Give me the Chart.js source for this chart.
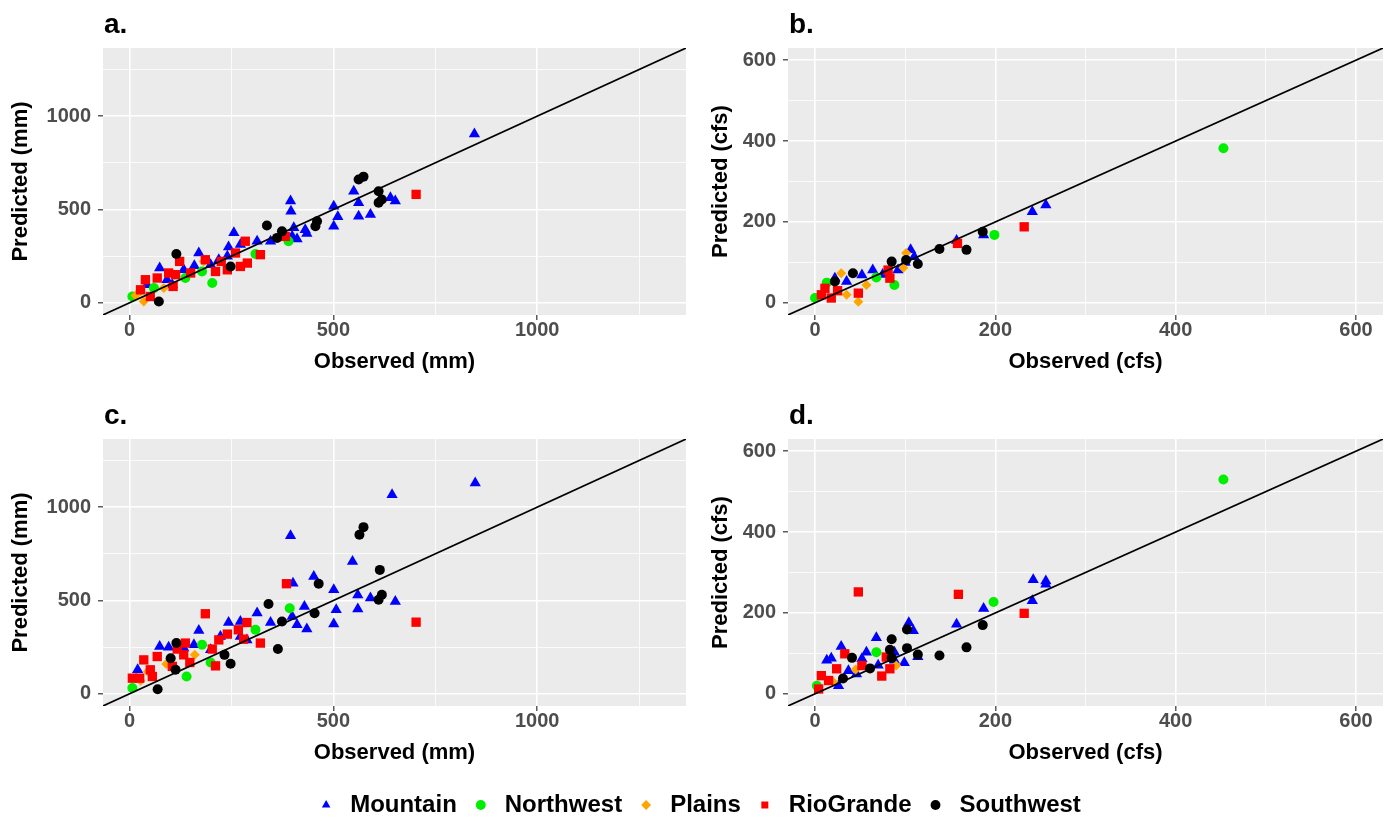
<!DOCTYPE html>
<html><head><meta charset="utf-8">
<script src="https://cdn.jsdelivr.net/npm/chart.js@4.4.1/dist/chart.umd.min.js"></script>
<style>
html,body{margin:0;padding:0;background:#fff;width:1395px;height:823px;overflow:hidden}
canvas{position:absolute;display:block}
</style></head><body>
<canvas id="ca" width="697" height="390" style="left:0px;top:0px"></canvas>
<canvas id="cb" width="698" height="390" style="left:697px;top:0px"></canvas>
<canvas id="cc" width="697" height="390" style="left:0px;top:391px"></canvas>
<canvas id="cd" width="698" height="390" style="left:697px;top:391px"></canvas>
<canvas id="cl" width="1395" height="100" style="left:0px;top:781px"></canvas>
<script>
// ---- categories / ticks ----
const regions = ['Mountain', 'Northwest', 'Plains', 'RioGrande', 'Southwest'];
const regionColors = ['#0000FF', '#00EE00', '#FFA500', '#FF0000', '#000000'];
const regionShapes = ['triangle', 'circle', 'rectRot', 'rect', 'circle'];
const panelLabels = ['a.', 'b.', 'c.', 'd.'];
const mmTicks = [0, 500, 1000];
const mmMinor = [250, 750, 1250];
const cfsTicks = [0, 200, 400, 600];
const cfsMinor = [100, 300, 500];
const mmLimits = [-65, 1365];
const cfsLimits = [-30, 630];

// ---- panel a: observed vs predicted (mm) ----
const aMountain = [[395,545],[396,491],[256,375],[243,299],[170,267],[74,187],[133,177],[159,199],[92,124],[105,97],[43,97],[313,330],[346,330],[272,312],[403,402],[399,357],[411,342],[431,392],[435,371],[501,518],[511,461],[501,410],[550,598],[562,536],[562,464],[591,473],[640,563],[652,545],[219,231],[240,249],[199,204],[846,905]];
const aNorthwest = [[309,262],[203,106],[178,168],[60,79],[7,34],[137,133],[390,330]];
const aPlains = [[182,222],[27,61],[35,7],[84,79],[15,40],[110,150]];
const aRioGrande = [[284,330],[321,258],[289,213],[272,195],[240,177],[211,168],[225,222],[186,231],[260,267],[123,222],[96,160],[113,151],[68,133],[39,124],[107,88],[27,70],[51,34],[382,356],[150,160],[703,581]];
const aSouthwest = [[115,262],[337,414],[374,383],[362,348],[460,437],[456,410],[562,661],[574,676],[611,598],[611,536],[619,554],[248,195],[72,7]];

// ---- panel b: observed vs predicted (cfs) ----
const bMountain = [[187,168],[157,154],[106,131],[110,114],[64,81],[52,69],[35,53],[22,61],[92,81],[241,225],[256,242],[100,100],[75,70]];
const bNorthwest = [[199,168],[88,44],[68,63],[13,50],[0,12],[453,382]];
const bPlains = [[101,123],[98,87],[29,73],[57,44],[35,20],[48,3]];
const bRioGrande = [[158,147],[81,81],[83,61],[48,24],[11,36],[7,20],[18,12],[232,188],[25,30]];
const bSouthwest = [[186,176],[168,131],[138,133],[114,96],[101,106],[85,102],[42,73],[22,53]];

// ---- panel c: observed vs predicted (mm) ----
const cMountain = [[644,1066],[395,847],[547,709],[452,629],[401,593],[501,557],[560,530],[591,513],[652,495],[507,450],[560,454],[429,468],[313,433],[346,382],[399,414],[411,370],[435,347],[501,374],[243,382],[272,388],[170,339],[272,307],[223,307],[158,263],[133,245],[96,250],[74,254],[288,289],[199,236],[20,129],[848,1129]];
const cNorthwest = [[393,459],[309,343],[178,263],[199,168],[140,93],[7,31]];
const cPlains = [[27,70],[45,120],[160,210],[90,160]];
const cRioGrande = [[385,590],[186,429],[288,382],[267,343],[240,320],[219,289],[203,240],[280,293],[321,272],[137,272],[117,240],[68,200],[35,182],[51,129],[105,147],[148,168],[211,150],[56,93],[7,84],[25,84],[133,209],[703,384]];
const cSouthwest = [[574,893],[564,852],[614,664],[619,531],[611,504],[464,590],[454,432],[341,481],[374,388],[364,240],[233,209],[248,161],[115,272],[101,191],[113,129],[69,25]];

// ---- panel d: observed vs predicted (cfs) ----
const dMountain = [[187,211],[157,172],[104,176],[109,156],[68,139],[29,117],[18,88],[13,83],[57,103],[88,103],[99,77],[114,92],[52,87],[70,71],[46,49],[37,57],[26,20],[88,83],[242,282],[256,279],[256,271],[241,230]];
const dNorthwest = [[198,227],[68,103],[2,20],[453,530]];
const dPlains = [[20,30],[45,60],[90,70]];
const dRioGrande = [[48,252],[159,246],[74,44],[83,62],[79,91],[33,99],[24,62],[7,45],[15,33],[4,12],[52,70],[232,199]];
const dSouthwest = [[186,170],[168,115],[138,95],[114,97],[102,113],[102,159],[85,135],[83,109],[85,89],[61,63],[41,89],[31,38]];

const FONT = "'Liberation Sans', Arial, Helvetica, sans-serif";
Chart.defaults.font.family = FONT;

const pointRadius = { triangle: 6.5, circle: 5, rectRot: 5, rect: 6.6 };

function seriesDatasets(list) {
  return list.map((pts, i) => ({
    label: regions[i],
    data: pts.map(p => ({ x: p[0], y: p[1] })),
    pointStyle: regionShapes[i],
    pointRadius: pointRadius[regionShapes[i]],
    pointHoverRadius: pointRadius[regionShapes[i]],
    backgroundColor: regionColors[i],
    borderColor: regionColors[i],
    borderWidth: 0,
    order: 5 - i
  }));
}

const panelBg = {
  id: 'panelBg',
  beforeDraw(chart) {
    const { ctx, chartArea: a } = chart;
    ctx.save();
    ctx.fillStyle = '#EBEBEB';
    ctx.fillRect(a.left, a.top, a.right - a.left, a.bottom - a.top);
    ctx.restore();
  }
};
const panelTag = {
  id: 'panelTag',
  afterDraw(chart, args, opts) {
    const { ctx, chartArea: a } = chart;
    ctx.save();
    ctx.fillStyle = '#000';
    ctx.font = 'bold 28px ' + FONT;
    ctx.textBaseline = 'alphabetic';
    ctx.textAlign = 'left';
    ctx.fillText(opts.text, a.left + 1, 33);
    ctx.restore();
  }
};

function axis(limits, majors, minors, title, isX, yWidth, titlePad) {
  const all = majors.concat(minors).sort((p, q) => p - q);
  const isMajor = c => c.tick && majors.includes(c.tick.value);
  const sc = {
    type: 'linear',
    min: limits[0],
    max: limits[1],
    afterBuildTicks: s => { s.ticks = all.map(v => ({ value: v })); },
    ticks: {
      autoSkip: false,
      maxRotation: 0,
      color: '#4D4D4D',
      padding: isX ? 0 : 7,
      font: { size: 20, weight: 'bold', lineHeight: 1 },
      callback: v => majors.includes(v) ? String(v) : ''
    },
    grid: {
      color: '#FFFFFF',
      lineWidth: c => isMajor(c) ? 1.6 : 0.8,
      tickColor: c => isMajor(c) ? '#333333' : 'rgba(0,0,0,0)',
      tickLength: 5,
      tickWidth: 1.2
    },
    border: { display: false },
    title: {
      display: true,
      text: title,
      color: '#000',
      font: { size: 22, weight: 'bold' },
      padding: isX ? { top: 0, bottom: 15 } : { top: titlePad, bottom: 0 }
    }
  };
  if (isX) sc.afterFit = s => { s.height = 75; };
  else sc.afterFit = s => { s.width = yWidth; };
  return sc;
}

function panel(id, tag, unit, limits, majors, minors, series, yWidth, padRight, titlePad) {
  const datasets = seriesDatasets(series);
  datasets.unshift({
    label: '1:1',
    data: [{ x: limits[0], y: limits[0] }, { x: limits[1], y: limits[1] }],
    showLine: true,
    borderColor: '#000',
    borderWidth: 1.6,
    pointRadius: 0,
    order: 0
  });
  new Chart(document.getElementById(id), {
    type: 'scatter',
    data: { datasets },
    options: {
      responsive: false,
      animation: false,
      events: [],
      layout: { padding: { top: 48, right: padRight, left: 0, bottom: 0 } },
      scales: {
        x: axis(limits, majors, minors, 'Observed (' + unit + ')', true),
        y: axis(limits, majors, minors, 'Predicted (' + unit + ')', false, yWidth, titlePad)
      },
      plugins: {
        legend: { display: false },
        tooltip: { enabled: false },
        panelTag: { text: tag }
      }
    },
    plugins: [panelBg, panelTag]
  });
}

panel('ca', panelLabels[0], 'mm', mmLimits, mmTicks, mmMinor, [aMountain, aNorthwest, aPlains, aRioGrande, aSouthwest], 103, 11, 8);
panel('cb', panelLabels[1], 'cfs', cfsLimits, cfsTicks, cfsMinor, [bMountain, bNorthwest, bPlains, bRioGrande, bSouthwest], 91, 12, 11);
panel('cc', panelLabels[2], 'mm', mmLimits, mmTicks, mmMinor, [cMountain, cNorthwest, cPlains, cRioGrande, cSouthwest], 103, 11, 8);
panel('cd', panelLabels[3], 'cfs', cfsLimits, cfsTicks, cfsMinor, [dMountain, dNorthwest, dPlains, dRioGrande, dSouthwest], 91, 12, 11);

// shared legend
new Chart(document.getElementById('cl'), {
  type: 'scatter',
  data: {
    datasets: regions.map((r, i) => ({
      label: r, data: [], pointStyle: regionShapes[i],
      backgroundColor: regionColors[i], borderColor: regionColors[i], borderWidth: 0
    }))
  },
  options: {
    responsive: false,
    animation: false,
    events: [],
    layout: { padding: 0 },
    scales: { x: { display: false }, y: { display: false } },
    plugins: {
      tooltip: { enabled: false },
      legend: {
        display: true,
        position: 'top',
        align: 'center',
        labels: {
          usePointStyle: true,
          boxWidth: 24,
          boxHeight: 7,
          padding: 12,
          color: '#000',
          font: { size: 24, weight: 'bold' }
        }
      }
    }
  }
});
</script>
</body></html>
